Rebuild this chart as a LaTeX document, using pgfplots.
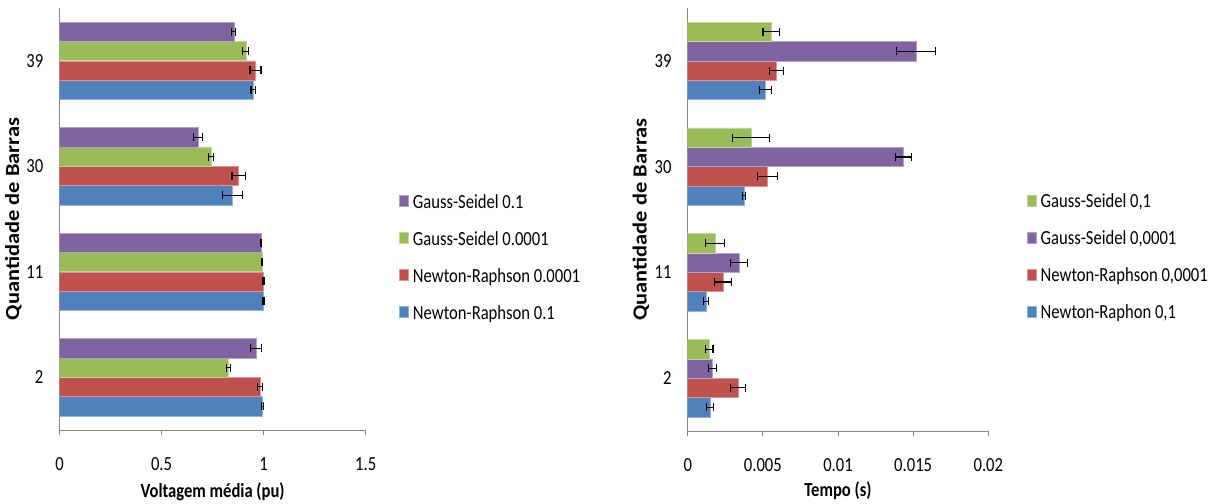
\documentclass[border=0pt]{standalone}
\usepackage{fontspec}
\setmainfont[FakeStretch=0.83]{Carlito}
\newfontfamily\ylabfont[FakeStretch=1.12]{Carlito}
\usepackage{pgfplots}
\pgfplotsset{compat=1.18}
\definecolor{cblue}{HTML}{4F81BD}
\definecolor{cred}{HTML}{C0504D}
\definecolor{cgreen}{HTML}{9BBB59}
\definecolor{cpurple}{HTML}{8064A2}
\definecolor{axgray}{HTML}{868686}
\newcommand{\fs}{\fontsize{20bp}{24bp}\selectfont}
\pgfplotsset{
  mybar/.style={
    xbar, bar width=0.1825,
    axis lines*=left,
    axis line style={-, draw=axgray, line width=0.9bp},
    xtick style={draw=axgray, line width=0.9bp},
    ytick style={draw=none},
    tick align=outside, major tick length=5bp,
    enlargelimits=false,
    ymin=-0.5, ymax=3.5,
    ytick={0,1,2,3}, yticklabels={2,11,30,39},
    scaled x ticks=false,
    tick label style={font=\fs},
    xticklabel style={anchor=base, inner sep=0pt, yshift=-35bp},
    yticklabel style={anchor=east, inner sep=0pt, xshift=-11bp},
    legend cell align=left,
    reverse legend,
    legend image code/.code={\fill[#1] (0bp,-2.5bp) rectangle (9.3bp,8bp);},
    legend style={draw=none, fill=none, inner sep=0pt, font=\fs,
      row sep=20bp, column sep=4bp,
      nodes={inner sep=0pt, text height=13bp, text depth=4bp}},
    error bars/error mark=|,
    error bars/error bar style={line width=1.1bp, black},
    error bars/error mark options={line width=1.1bp, black, mark size=4bp},
  },
  cb/.style={fill=cblue, draw=cblue!60!white, line width=0.5bp},
  cr/.style={fill=cred, draw=cred!60!white, line width=0.5bp},
  cg/.style={fill=cgreen, draw=cgreen!60!white, line width=0.5bp},
  cp/.style={fill=cpurple, draw=cpurple!60!white, line width=0.5bp},
  p1/.style={bar shift=-0.274},
  p2/.style={bar shift=-0.0913},
  p3/.style={bar shift=0.0913},
  p4/.style={bar shift=0.274},
}
\begin{document}
\begin{tikzpicture}
\path[use as bounding box] (0,0) rectangle (1227bp,504bp);
\begin{axis}[mybar,
  at={(59.5bp,74bp)}, anchor=south west,
  scale only axis, width=306.2bp, height=422bp,
  xmin=0, xmax=1.5,
  xtick={0,0.5,1,1.5}, xticklabels={0,0.5,1,1.5},
  xlabel={Voltagem média (pu)},
  ylabel={Quantidade de Barras},
  every axis x label/.style={at={(axis description cs:0.5,-0.146)}, anchor=center, font=\fs\bfseries},
  every axis y label/.style={at={(axis description cs:-0.151,0.5)}, rotate=90, anchor=center, font=\fs\ylabfont\bfseries},
  legend style={at={(axis description cs:1.1087,0.405)}, anchor=west},
]
\addplot[cb, p1, error bars/.cd, x dir=both, x explicit] coordinates {
  (0.994,0) +- (0.005,0)
  (0.999,1) +- (0.003,0)
  (0.846,2) +- (0.049,0)
  (0.950,3) +- (0.012,0)
};
\addlegendentry{Newton-Raphson 0.1}
\addplot[cr, p2, error bars/.cd, x dir=both, x explicit] coordinates {
  (0.984,0) +- (0.012,0)
  (0.999,1) +- (0.003,0)
  (0.878,2) +- (0.033,0)
  (0.960,3) +- (0.027,0)
};
\addlegendentry{Newton-Raphson 0.0001}
\addplot[cg, p3, error bars/.cd, x dir=both, x explicit] coordinates {
  (0.828,0) +- (0.008,0)
  (0.991,1) +- (0.002,0)
  (0.741,2) +- (0.013,0)
  (0.913,3) +- (0.015,0)
};
\addlegendentry{Gauss-Seidel 0.0001}
\addplot[cp, p4, error bars/.cd, x dir=both, x explicit] coordinates {
  (0.962,0) +- (0.027,0)
  (0.988,1) +- (0.003,0)
  (0.679,2) +- (0.021,0)
  (0.854,3) +- (0.010,0)
};
\addlegendentry{Gauss-Seidel 0.1}
\end{axis}

\begin{axis}[mybar,
  at={(687.7bp,73bp)}, anchor=south west,
  scale only axis, width=300.6bp, height=423bp,
  xmin=0, xmax=0.02,
  xtick={0,0.005,0.01,0.015,0.02}, xticklabels={0,0.005,0.01,0.015,0.02},
  xlabel={Tempo (s)},
  ylabel={Quantidade de Barras},
  every axis x label/.style={at={(axis description cs:0.5,-0.142)}, anchor=center, font=\fs\bfseries},
  every axis y label/.style={at={(axis description cs:-0.156,0.5)}, rotate=90, anchor=center, font=\fs\ylabfont\bfseries},
  legend style={at={(axis description cs:1.1277,0.407)}, anchor=west},
]
\addplot[cb, p1, error bars/.cd, x dir=both, x explicit] coordinates {
  (0.00150,0) +- (0.00024,0)
  (0.00124,1) +- (0.00016,0)
  (0.00375,2) +- (0.00010,0)
  (0.00516,3) +- (0.00040,0)
};
\addlegendentry{Newton-Raphon 0,1}
\addplot[cr, p2, error bars/.cd, x dir=both, x explicit] coordinates {
  (0.00335,0) +- (0.00050,0)
  (0.00235,1) +- (0.00057,0)
  (0.00530,2) +- (0.00065,0)
  (0.00592,3) +- (0.00048,0)
};
\addlegendentry{Newton-Raphson 0,0001}
\addplot[cp, p3, error bars/.cd, x dir=both, x explicit] coordinates {
  (0.00166,0) +- (0.00026,0)
  (0.00341,1) +- (0.00058,0)
  (0.01435,2) +- (0.00053,0)
  (0.01519,3) +- (0.00128,0)
};
\addlegendentry{Gauss-Seidel 0,0001}
\addplot[cg, p4, error bars/.cd, x dir=both, x explicit] coordinates {
  (0.00142,0) +- (0.00026,0)
  (0.00182,1) +- (0.00062,0)
  (0.00421,2) +- (0.00123,0)
  (0.00556,3) +- (0.00055,0)
};
\addlegendentry{Gauss-Seidel 0,1}
\end{axis}
\end{tikzpicture}
\end{document}
